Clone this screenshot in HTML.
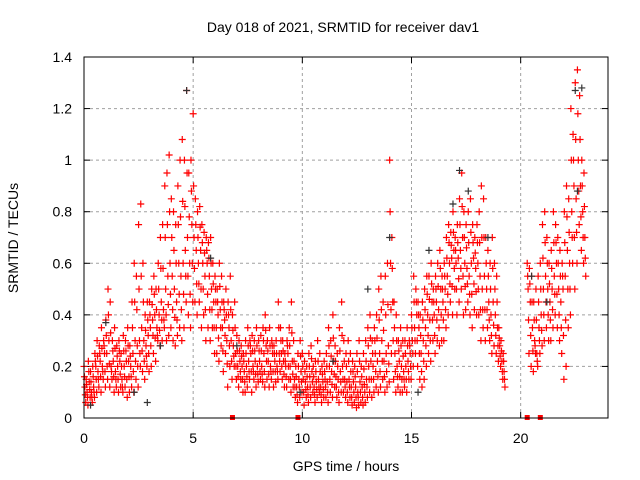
<!DOCTYPE html>
<html><head><meta charset="utf-8"><style>
html,body{margin:0;padding:0;background:#fff}
svg{display:block;font-family:"Liberation Sans",sans-serif}
</style></head><body>
<svg id="chart" width="640" height="480" viewBox="0 0 640 480" xmlns="http://www.w3.org/2000/svg">
<rect width="640" height="480" fill="#fff"/>
<text x="343" y="32" font-size="14" text-anchor="middle">Day 018 of 2021, SRMTID for receiver dav1</text>
<text x="0" y="0" font-size="14" text-anchor="middle" transform="translate(18,238) rotate(-90)">SRMTID / TECUs</text>
<text x="346" y="471" font-size="14" text-anchor="middle">GPS time / hours</text>
<g id="grid"></g>
<g id="ticks"></g>
<g id="marks"></g>
<rect x="84" y="57" width="524" height="361" fill="none" stroke="#000" stroke-width="1"/>
</svg>
<script>
const xTicks=[0,5,10,15,20];
const yTicks=[0,0.2,0.4,0.6,0.8,1,1.2,1.4];
const yTickLabels=["0","0.2","0.4","0.6","0.8","1","1.2","1.4"];
const segStarts=[0,20.3];
const seg1Hi=[.2,.15,.22,.18,.2,.25,.3,.28,.35,.3,.38,.5,.45,.3,.35,.28,.3,.25,.32,.3,.35,.28,.45,.6,.55,.75,.83,.6,.4,.45,.45,.5,.55,.5,.6,.7,.75,.9,.95,1.02,.85,.8,.75,.9,1.0,1.08,1.0,1.27,.95,1.0,1.18,.85,.8,.82,.75,.72,.7,.68,.7,.6,.55,.5,.6,.55,.45,.5,.45,.55,.4,.45,.32,.3,.28,.25,.3,.35,.3,.32,.3,.35,.3,.32,.35,.4,.3,.35,.3,.28,.3,.45,.35,.3,.25,.3,.35,.45,.3,.2,.25,.3,.25,.22,.2,.25,.28,.2,.22,.3,.25,.2,.22,.25,.35,.3,.4,.28,.25,.35,.45,.3,.25,.3,.25,.22,.2,.25,.3,.2,.25,.3,.35,.4,.3,.35,.4,.5,.55,.45,.55,.6,1.0,.7,.45,.4,.3,.35,.3,.3,.35,.3,.4,.55,.5,.45,.4,.45,.5,.55,.55,.6,.5,.55,.6,.65,.55,.6,.7,.75,.72,.8,.7,.75,.85,.95,.8,.75,.8,.85,.75,.7,.75,.8,.9,.85,.7,.65,.6,.7,.6,.55,.35,.3,.25];
const seg1MidHi=[.16,.13,.18,.14,.16,.22,.24,.25,.27,.28,.32,.4,.33,.26,.27,.24,.26,.2,.26,.26,.28,.24,.35,.45,.42,.5,.55,.45,.34,.38,.4,.44,.48,.42,.5,.58,.58,.7,.75,.8,.7,.65,.6,.75,.78,.84,.82,.95,.78,.88,.9,.75,.7,.74,.68,.64,.65,.62,.6,.52,.5,.45,.51,.45,.42,.4,.4,.42,.34,.35,.26,.26,.24,.22,.25,.28,.28,.26,.26,.28,.26,.26,.3,.34,.26,.28,.28,.25,.25,.35,.3,.26,.22,.28,.28,.33,.22,.16,.2,.24,.2,.18,.16,.2,.23,.16,.18,.22,.18,.17,.18,.2,.28,.24,.31,.22,.2,.26,.32,.22,.2,.22,.18,.18,.16,.18,.22,.16,.19,.22,.28,.31,.25,.3,.31,.38,.42,.34,.4,.44,.8,.58,.35,.3,.26,.28,.24,.25,.28,.28,.35,.45,.45,.4,.32,.38,.42,.48,.46,.52,.45,.5,.51,.58,.5,.55,.62,.68,.67,.72,.65,.68,.75,.82,.7,.66,.68,.72,.68,.64,.68,.68,.7,.7,.6,.55,.5,.58,.5,.45,.31,.26,.22];
const seg1Mid=[.12,.1,.14,.1,.12,.2,.18,.22,.2,.25,.25,.3,.2,.22,.18,.2,.22,.15,.2,.22,.22,.2,.25,.3,.28,.3,.35,.3,.28,.32,.35,.38,.4,.35,.4,.45,.42,.5,.55,.6,.55,.5,.45,.6,.55,.6,.65,.7,.6,.75,.7,.65,.6,.65,.6,.55,.6,.55,.5,.45,.45,.4,.42,.35,.38,.3,.35,.3,.28,.25,.2,.22,.2,.18,.2,.22,.25,.2,.22,.2,.22,.2,.25,.28,.22,.2,.25,.22,.2,.25,.25,.22,.2,.25,.2,.22,.15,.12,.15,.18,.15,.14,.12,.16,.18,.12,.14,.15,.12,.14,.15,.14,.2,.18,.22,.16,.15,.18,.2,.15,.14,.15,.12,.14,.12,.1,.14,.12,.13,.15,.2,.22,.2,.25,.22,.25,.3,.22,.25,.28,.6,.45,.25,.2,.22,.2,.18,.2,.22,.25,.3,.35,.4,.35,.25,.3,.35,.4,.38,.45,.4,.45,.42,.5,.45,.5,.55,.6,.62,.65,.6,.62,.65,.7,.6,.58,.55,.6,.62,.58,.6,.55,.5,.55,.5,.45,.4,.45,.4,.35,.28,.22,.18];
const seg1MidLo=[.09,.08,.11,.08,.1,.15,.15,.16,.18,.18,.2,.21,.18,.16,.15,.15,.17,.12,.16,.15,.16,.16,.18,.22,.2,.25,.26,.22,.24,.25,.28,.32,.31,.32,.34,.38,.38,.4,.44,.48,.42,.39,.38,.48,.42,.48,.55,.55,.48,.6,.58,.52,.52,.5,.5,.42,.48,.42,.42,.35,.35,.31,.35,.26,.32,.21,.28,.22,.24,.2,.16,.18,.15,.14,.16,.18,.18,.18,.17,.17,.18,.17,.18,.22,.17,.18,.18,.18,.18,.22,.2,.17,.16,.2,.15,.17,.12,.09,.12,.14,.1,.11,.09,.12,.14,.09,.11,.12,.09,.11,.12,.1,.15,.13,.17,.12,.1,.14,.15,.12,.1,.12,.08,.1,.08,.08,.1,.08,.1,.12,.15,.15,.15,.18,.16,.18,.22,.16,.18,.21,.42,.3,.18,.16,.16,.15,.15,.15,.18,.2,.25,.3,.3,.25,.18,.22,.28,.32,.3,.38,.32,.38,.35,.4,.38,.42,.48,.52,.51,.58,.5,.54,.58,.55,.51,.52,.48,.48,.52,.49,.5,.42,.42,.42,.42,.38,.32,.36,.32,.28,.24,.18,.15];
const seg1Lo=[.06,.05,.08,.06,.08,.1,.12,.1,.15,.12,.15,.12,.15,.1,.12,.1,.12,.1,.12,.08,.1,.12,.1,.15,.12,.2,.18,.15,.2,.18,.2,.25,.22,.3,.28,.3,.35,.3,.32,.35,.3,.28,.32,.35,.3,.35,.45,.4,.35,.45,.45,.4,.45,.35,.4,.3,.35,.3,.35,.25,.25,.22,.28,.18,.25,.12,.2,.15,.2,.15,.12,.15,.1,.1,.12,.15,.1,.15,.12,.14,.15,.14,.12,.15,.12,.15,.12,.14,.15,.18,.15,.12,.12,.15,.1,.12,.08,.06,.08,.1,.05,.08,.06,.08,.1,.06,.08,.1,.06,.08,.08,.06,.1,.08,.12,.08,.06,.1,.1,.08,.06,.08,.05,.06,.04,.05,.06,.05,.06,.08,.1,.08,.1,.12,.1,.12,.15,.1,.12,.14,.25,.15,.1,.12,.1,.1,.12,.1,.15,.15,.2,.25,.2,.15,.12,.15,.2,.25,.22,.3,.25,.3,.28,.3,.3,.35,.4,.45,.4,.5,.4,.45,.5,.4,.42,.45,.4,.35,.42,.4,.4,.3,.35,.3,.35,.3,.25,.28,.25,.22,.2,.15,.12];
const seg2Hi=[.6,.58,.55,.45,.5,.55,.6,.75,.8,.7,.6,.65,.8,.75,.7,.65,.6,.8,.9,.85,1.2,1.1,1.3,1.35,1.25,1.0,.95];
const seg2MidHi=[.55,.52,.45,.38,.38,.45,.5,.62,.68,.6,.52,.58,.68,.68,.6,.55,.55,.68,.78,.72,1.0,1.0,1.08,1.18,1.08,.9,.82];
const seg2Mid=[.5,.45,.35,.3,.25,.35,.4,.5,.55,.5,.45,.5,.55,.6,.5,.45,.5,.55,.65,.6,.8,.9,.85,1.0,.9,.8,.7];
const seg2MidLo=[.38,.32,.26,.28,.22,.3,.34,.4,.45,.4,.38,.42,.48,.48,.4,.35,.32,.38,.5,.5,.7,.7,.72,.88,.78,.7,.62];
const seg2Lo=[.25,.2,.18,.25,.2,.25,.28,.3,.35,.3,.3,.35,.4,.35,.3,.25,.15,.2,.35,.4,.6,.5,.6,.75,.65,.6,.55];
const blackTimes=[0.3,1.0,2.3,2.9,3.5,4.7,5.8,7.0,9.9,11.4,13.0,14.0,15.3,15.8,16.9,17.2,17.6,18.5,20.5,21.2,22.5,22.6,22.8];
const blackValues=[.05,.37,.1,.06,.28,1.27,.62,.28,.1,.22,.5,.7,.1,.65,.83,.96,.88,.7,.55,.45,1.27,.88,1.28];
const zeroTimes=[6.8,9.8,20.3,20.9];
const NS="http://www.w3.org/2000/svg";
const X0=84,X1=608,Y0=418,Y1=57;
const xs=t=>X0+(t/24)*(X1-X0);
const ys=v=>Y0-(v/1.4)*(Y0-Y1);
const grid=document.getElementById('grid'),ticks=document.getElementById('ticks'),marks=document.getElementById('marks');
function mk(tag,attrs,parent){const e=document.createElementNS(NS,tag);for(const k in attrs)e.setAttribute(k,attrs[k]);parent.appendChild(e);return e;}
xTicks.forEach(t=>{const x=xs(t);
 if(t>0){const g=mk('line',{x1:x,y1:Y0,x2:x,y2:Y1,stroke:'#a0a0a0','stroke-dasharray':'3,3'},grid);
 
 }
 mk('line',{x1:x,y1:Y0,x2:x,y2:Y0-6,stroke:'#000'},ticks);
 mk('line',{x1:x,y1:Y1,x2:x,y2:Y1+6,stroke:'#000'},ticks);
 const l=mk('text',{x:x,y:443,'font-size':14,'text-anchor':'middle'},ticks);l.textContent=String(t);
 
 
});
yTicks.forEach((v,i)=>{const y=ys(v);
 if(v>0&&v<1.4){const g=mk('line',{x1:X0,y1:y,x2:X1,y2:y,stroke:'#a0a0a0','stroke-dasharray':'3,3'},grid);
 
 }
 mk('line',{x1:X0,y1:y,x2:X0+6,y2:y,stroke:'#000'},ticks);
 mk('line',{x1:X1,y1:y,x2:X1-6,y2:y,stroke:'#000'},ticks);
 const l=mk('text',{x:72,y:y+5,'font-size':14,'text-anchor':'end'},ticks);l.textContent=yTickLabels[i];
 
 
});
function plus(t,v,color,name){const x=xs(t),y=ys(v);
 const p=mk('path',{d:`M${x-3.5},${y}h7M${x},${y-3.5}v7`,stroke:color,'stroke-width':1.2,fill:'none'},marks);
 
 }
const segs=[[seg1Hi,seg1MidHi,seg1Mid,seg1MidLo,seg1Lo],[seg2Hi,seg2MidHi,seg2Mid,seg2MidLo,seg2Lo]];
segs.forEach((s,si)=>{s.forEach((arr,k)=>{arr.forEach((v,i)=>{plus(segStarts[si]+i*0.1+k*0.02,v,'#ff0000','srmtid-point');});});});
blackTimes.forEach((t,i)=>plus(t,blackValues[i],'#333','srmtid-point-alt'));
zeroTimes.forEach(t=>{const r=mk('rect',{x:xs(t)-2.5,y:Y0-3,width:5,height:5,fill:'#ff0000'},marks);
 
 });
</script>
</body></html>
